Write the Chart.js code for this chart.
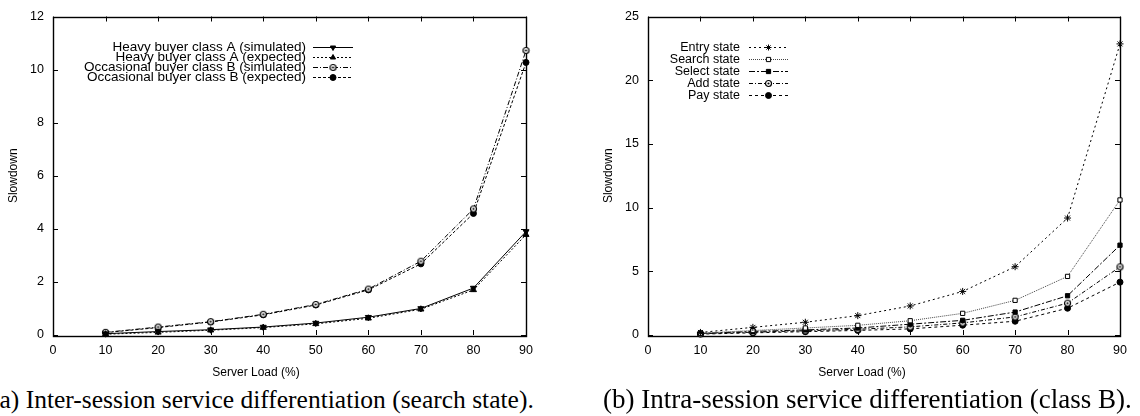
<!DOCTYPE html>
<html>
<head>
<meta charset="utf-8">
<script src="https://cdn.jsdelivr.net/npm/chart.js@4.4.0/dist/chart.umd.min.js"></script>
<style>
  body { margin: 0; width: 1140px; height: 416px; background: #fff; overflow: hidden; position: relative; }
  .box { position: absolute; top: 0; height: 385px; }
  #boxA { left: 0; width: 570px; }
  #boxB { left: 595px; width: 545px; }
  .cap { position: absolute; font-family: "Liberation Serif", "Times New Roman", serif; line-height: 1; white-space: nowrap; color: #000; }
  .xt { position: absolute; top: 364px; width: 200px; text-align: center; font-family: "Liberation Sans", Arial, sans-serif; font-size: 12px; line-height: 16px; color: #000; }
</style>
</head>
<body>
<div class="box" id="boxA"><canvas id="chartA"></canvas></div>
<div class="box" id="boxB"><canvas id="chartB"></canvas></div>
<div class="xt" style="left:156px">Server Load (%)</div>
<div class="xt" style="left:762px">Server Load (%)</div>
<div class="cap" id="capA" style="left:-9px; top:387px; font-size:25.5px">(a) Inter-session service differentiation (search state).</div>
<div class="cap" id="capB" style="left:603px; top:386px; font-size:27px">(b) Intra-session service differentiation (class B).</div>

<script>
// ---- data ----
const loads = [10, 20, 30, 40, 50, 60, 70, 80, 90];
const xTicks = [0, 10, 20, 30, 40, 50, 60, 70, 80, 90];
const yTicksA = [0, 2, 4, 6, 8, 10, 12];
const yTicksB = [0, 5, 10, 15, 20, 25];

const heavySim = [0.05, 0.13, 0.20, 0.30, 0.45, 0.67, 1.00, 1.77, 3.90];
const heavyExp = [0.03, 0.10, 0.18, 0.28, 0.42, 0.63, 0.97, 1.70, 3.78];
const occSim   = [0.10, 0.30, 0.50, 0.78, 1.15, 1.73, 2.78, 4.75, 10.72];
const occExp   = [0.09, 0.28, 0.49, 0.76, 1.13, 1.70, 2.68, 4.58, 10.27];

const entryState  = [0.20, 0.60, 1.00, 1.52, 2.28, 3.42, 5.36, 9.18, 22.85];
const searchState = [0.15, 0.35, 0.55, 0.76, 1.12, 1.70, 2.72, 4.60, 10.60];
const selectState = [0.12, 0.28, 0.40, 0.55, 0.85, 1.15, 1.80, 3.08, 7.05];
const addState    = [0.10, 0.22, 0.33, 0.45, 0.64, 0.95, 1.42, 2.50, 5.35];
const payState    = [0.07, 0.17, 0.26, 0.36, 0.48, 0.77, 1.08, 2.10, 4.15];

const SANS = '"Liberation Sans", Arial, sans-serif';

// circle with a dot (gnuplot style marker)
function ringDot(r) {
    const s = 2 * r + 3;
    const c = document.createElement("canvas");
    c.width = c.height = s;
    const g = c.getContext("2d");
    g.lineWidth = 1.2;
    g.strokeStyle = "#000";
    g.fillStyle = "#fff";
    g.beginPath(); g.arc(s / 2, s / 2, r, 0, Math.PI * 2); g.fill(); g.stroke();
    g.fillStyle = "#000";
    g.beginPath(); g.arc(s / 2, s / 2, 1.1, 0, Math.PI * 2); g.fill();
    return c;
}

function pts(vals) {
    return loads.map((x, i) => ({ x: x, y: vals[i] }));
}

function series(label, vals, dash, style, extra) {
    return Object.assign({
        label: label,
        data: pts(vals),
        borderColor: "#000",
        backgroundColor: "#000",
        borderWidth: 1,
        borderDash: dash,
        pointStyle: style,
        pointRadius: 3.5,
        pointBorderWidth: 1,
        pointBorderColor: "#000",
        pointBackgroundColor: "#000",
        tension: 0,
        clip: false
    }, extra || {});
}

// frame + inward ticks on all four sides
const framePlugin = {
    id: "frame",
    beforeDatasetsDraw(chart) {
        const { ctx, chartArea: a } = chart;
        const x = chart.scales.x, y = chart.scales.y;
        ctx.save();
        ctx.strokeStyle = "#000";
        ctx.lineWidth = 1;
        ctx.beginPath();
        x.ticks.forEach(t => {
            const px = Math.round(x.getPixelForValue(t.value)) + 0.5;
            ctx.moveTo(px, a.bottom); ctx.lineTo(px, a.bottom - 5);
            ctx.moveTo(px, a.top); ctx.lineTo(px, a.top + 5);
        });
        y.ticks.forEach(t => {
            const py = Math.round(y.getPixelForValue(t.value)) + 0.5;
            ctx.moveTo(a.left, py); ctx.lineTo(a.left + 5, py);
            ctx.moveTo(a.right, py); ctx.lineTo(a.right - 5, py);
        });
        ctx.stroke();
        ctx.lineWidth = 1.4;
        ctx.strokeRect(Math.round(a.left) + 0.5, Math.round(a.top) + 0.5,
                       Math.round(a.right - a.left), Math.round(a.bottom - a.top));
        ctx.restore();
    }
};

// gnuplot-like key: right aligned text, then line sample with marker
const keyPlugin = {
    id: "gnuKey",
    afterDatasetsDraw(chart, args, opts) {
        const ctx = chart.ctx;
        ctx.save();
        ctx.font = opts.size + "px " + SANS;
        ctx.textAlign = "right";
        ctx.textBaseline = "middle";
        chart.data.datasets.forEach((ds, i) => {
            const yy = Math.round(opts.top + i * opts.step) + 0.5;
            ctx.fillStyle = "#000";
            ctx.fillText(ds.label, opts.textRight, yy);
            ctx.strokeStyle = ds.borderColor;
            ctx.lineWidth = 1;
            ctx.setLineDash(ds.borderDash || []);
            ctx.beginPath();
            ctx.moveTo(opts.x0, yy);
            ctx.lineTo(opts.x1, yy);
            ctx.stroke();
            ctx.setLineDash([]);
            ctx.fillStyle = ds.pointBackgroundColor;
            ctx.strokeStyle = "#000";
            Chart.helpers.drawPoint(ctx, {
                pointStyle: ds.pointStyle,
                rotation: ds.pointRotation || 0,
                radius: 3,
                borderWidth: 1
            }, (opts.x0 + opts.x1) / 2, yy);
        });
        ctx.restore();
    }
};

function makeChart(id, datasets, yTicks, padRight, key) {
    const ctx = document.getElementById(id).getContext("2d");
    return new Chart(ctx, {
        type: "line",
        data: { datasets: datasets },
        plugins: [framePlugin, keyPlugin],
        options: {
            responsive: true,
            maintainAspectRatio: false,
            animation: false,
            layout: { padding: { top: 10, bottom: 0, left: 0, right: padRight } },
            plugins: {
                legend: { display: false },
                tooltip: { enabled: false },
                gnuKey: key
            },
            scales: {
                x: {
                    type: "linear",
                    min: xTicks[0],
                    max: xTicks[xTicks.length - 1],
                    afterBuildTicks: s => { s.ticks = xTicks.map(v => ({ value: v })); },
                    afterFit: s => { s.height = 50; },
                    grid: { display: false, drawTicks: false },
                    border: { display: false },
                    ticks: { color: "#000", padding: 8, maxRotation: 0, font: { family: SANS, size: 12.5 } }
                },
                y: {
                    min: yTicks[0],
                    max: yTicks[yTicks.length - 1],
                    afterBuildTicks: s => { s.ticks = yTicks.map(v => ({ value: v })); },
                    afterFit: s => { s.width = 53; },
                    grid: { display: false, drawTicks: false },
                    border: { display: false },
                    ticks: { color: "#000", padding: 9, font: { family: SANS, size: 12.5 } },
                    title: { display: true, text: "Slowdown", color: "#000",
                             padding: { top: 6, bottom: 0 }, font: { family: SANS, size: 12 } }
                }
            }
        }
    });
}

// ================= (a) inter-session =================
makeChart("chartA", [
    series("Heavy buyer class A (simulated)", heavySim, [], "triangle", { pointRotation: 180 }),
    series("Heavy buyer class A (expected)", heavyExp, [2, 2], "triangle", {}),
    series("Occasional buyer class B (simulated)", occSim, [5, 2, 1, 2], ringDot(3), {}),
    series("Occasional buyer class B (expected)", occExp, [3, 2], "circle", { pointRadius: 3 })
], yTicksA, 44, { size: 13.5, textRight: 306, x0: 313, x1: 353, top: 47, step: 10 });

// ================= (b) intra-session =================
makeChart("chartB", [
    series("Entry state", entryState, [2, 3], "star", {}),
    series("Search state", searchState, [1, 1], "rect", { borderColor: "#444", pointBackgroundColor: "#fff", pointRadius: 3 }),
    series("Select state", selectState, [6, 2, 2, 2], "rect", { pointRadius: 3 }),
    series("Add state", addState, [4, 2, 1, 2], ringDot(3), {}),
    series("Pay state", payState, [3, 3], "circle", { pointRadius: 3 })
], yTicksB, 20, { size: 12.5, textRight: 145, x0: 154, x1: 193, top: 47, step: 12 });
</script>
</body>
</html>
